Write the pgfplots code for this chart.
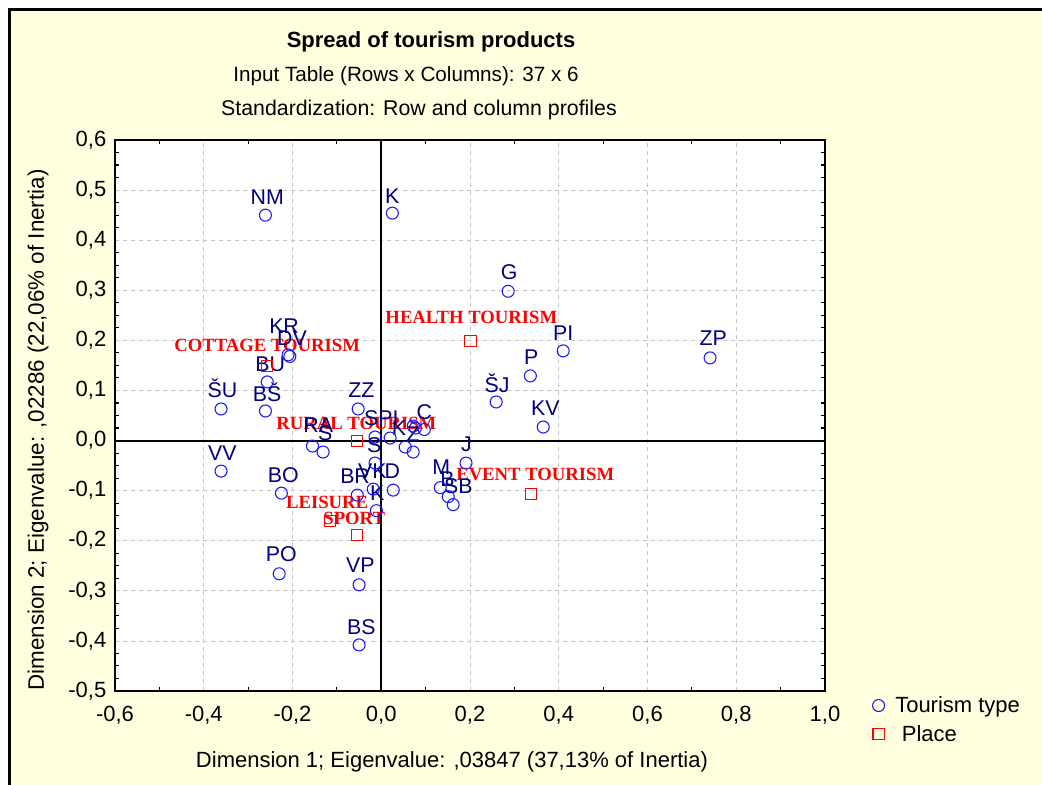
\documentclass[border=0pt]{standalone}
\usepackage{pgfplots}
\pgfplotsset{compat=1.18}
\usepackage{fontspec}
\setmainfont{Liberation Sans}
\newfontfamily\serifb{Liberation Serif}
\definecolor{bg}{RGB}{255,255,224}
\definecolor{navy}{RGB}{0,0,128}
\definecolor{mblue}{RGB}{25,25,255}
\definecolor{gridc}{RGB}{195,195,195}
\begin{document}
\begin{tikzpicture}[x=0.75pt,y=0.75pt]
\useasboundingbox (0,0) rectangle (1042,785);
\fill[white] (0,0) rectangle (1042,785);
\fill[bg] (10,0) rectangle (1042,775);
\draw[black, line width=2.25pt] (9.5,0) -- (9.5,775.5) -- (1042,775.5);
\begin{axis}[
  at={(86.25pt,70.5pt)}, anchor=south west,
  scale only axis, width=532.5pt, height=413.25pt,
  xmin=-0.6, xmax=1.0, ymin=-0.5, ymax=0.6,
  xtick={-0.6,-0.4,-0.2,0,0.2,0.4,0.6,0.8,1.0},
  ytick={-0.5,-0.4,-0.3,-0.2,-0.1,0,0.1,0.2,0.3,0.4,0.5,0.6},
  minor x tick num=1, minor y tick num=3,
  major tick length=0pt, minor tick length=3pt, tick align=inside,
  tick style={black, line width=0.8pt},
  grid=major, major grid style={gridc, dashed, line width=0.6pt},
  axis line style={black, line width=1.5pt},
  axis background/.style={fill=white},
  tick label style={font=\fontsize{16.5}{18}\selectfont},
  xticklabel style={yshift=-8pt},
  yticklabel style={xshift=-3pt},
  /pgf/number format/use comma, /pgf/number format/fixed,
  /pgf/number format/fixed zerofill, /pgf/number format/precision=1,
  /pgf/number format/assume math mode=true,
  clip=false,
  legend style={draw=none, fill=none, at={(1.061,0.0)}, anchor=north west,
    font=\fontsize{16.5}{19}\selectfont, row sep=4pt},
  legend cell align=left,
]
\addplot[forget plot, black, line width=1.5pt] coordinates {(0,-0.5) (0,0.6)};
\addplot[forget plot, black, line width=1.5pt] coordinates {(-0.6,0) (1.0,0)};

% red labels (columns)
\begin{scope}[every node/.style={red, font=\serifb\bfseries\fontsize{14}{16}\selectfont, inner sep=0pt}]
\node at (axis cs:0.203,0.245) {HEALTH TOURISM};
\node at (axis cs:-0.257,0.190) {COTTAGE TOURISM};
\node at (axis cs:-0.056,0.035) {RURAL TOURISM};
\node at (axis cs:0.347,-0.068) {EVENT TOURISM};
\node at (axis cs:-0.122,-0.123) {LEISURE};
\node at (axis cs:-0.061,-0.155) {SPORT};
\end{scope}

% navy labels (rows)
\begin{scope}[every node/.style={navy, font=\fontsize{16}{18}\selectfont, inner sep=0pt}]
\node at (axis cs:-0.257,0.486) {NM};
\node at (axis cs:0.025,0.488) {K};
\node at (axis cs:0.288,0.336) {G};
\node at (axis cs:0.410,0.215) {PI};
\node at (axis cs:0.748,0.205) {ZP};
\node at (axis cs:0.338,0.167) {P};
\node at (axis cs:0.261,0.115) {ŠJ};
\node at (axis cs:0.370,0.064) {KV};
\node at (axis cs:-0.219,0.229) {KR};
\node at (axis cs:-0.201,0.205) {DV};
\node at (axis cs:-0.250,0.153) {BU};
\node at (axis cs:-0.358,0.105) {ŠU};
\node at (axis cs:-0.257,0.097) {BŠ};
\node at (axis cs:-0.045,0.101) {ZZ};
\node at (axis cs:0.000,0.045) {SPI};
\node at (axis cs:0.097,0.057) {C};
\node at (axis cs:0.040,0.025) {K};
\node at (axis cs:0.072,0.012) {Z};
\node at (axis cs:-0.142,0.031) {RA};
\node at (axis cs:-0.126,0.015) {S};
\node at (axis cs:-0.016,-0.009) {S};
\node at (axis cs:-0.059,-0.072) {BR};
\node at (axis cs:-0.020,-0.062) {VK};
\node at (axis cs:0.025,-0.061) {D};
\node at (axis cs:-0.009,-0.105) {K};
\node at (axis cs:0.192,-0.007) {J};
\node at (axis cs:0.135,-0.054) {M};
\node at (axis cs:0.149,-0.078) {B};
\node at (axis cs:0.174,-0.092) {SB};
\node at (axis cs:-0.358,-0.025) {VV};
\node at (axis cs:-0.221,-0.069) {BO};
\node at (axis cs:-0.225,-0.227) {PO};
\node at (axis cs:-0.047,-0.249) {VP};
\node at (axis cs:-0.045,-0.372) {BS};
\end{scope}

\addplot[only marks, mark=o, mark size=4.5pt, color=mblue, mark options={line width=0.8pt, fill=none}] coordinates {
(-0.261,0.450) (0.025,0.454) (0.286,0.298) (0.410,0.179) (0.741,0.165)
(0.336,0.129) (0.259,0.077) (0.365,0.027) (-0.210,0.171) (-0.206,0.168)
(-0.257,0.117) (-0.361,0.063) (-0.261,0.059) (-0.052,0.063) (-0.014,0.007)
(0.020,0.005) (0.097,0.022) (0.077,0.025) (0.072,0.029) (0.054,-0.013)
(0.072,-0.023) (-0.155,-0.011) (-0.131,-0.023) (-0.014,-0.045) (-0.018,-0.097)
(0.027,-0.099) (-0.054,-0.109) (-0.011,-0.140) (0.191,-0.045) (0.133,-0.094)
(0.151,-0.112) (0.162,-0.128) (-0.361,-0.061) (-0.225,-0.105) (-0.230,-0.266)
(-0.050,-0.288) (-0.050,-0.408)
};
\addlegendentry{\hspace{6pt}Tourism type}
\addplot[only marks, mark=square, mark size=4.2pt, color=red, mark options={line width=0.8pt, fill=none}] coordinates {
(0.201,0.199) (-0.257,0.149) (-0.054,-0.001) (0.338,-0.107) (-0.115,-0.160) (-0.054,-0.188)
};
\addlegendentry{\hspace{11pt}Place}
\end{axis}
\node[font=\bfseries\fontsize{16.5}{19}\selectfont] at (431,743) {Spread of tourism products};
\node[font=\fontsize{15.5}{18}\selectfont] at (406,709) {Input Table (Rows x Columns): 37 x 6};
\node[font=\fontsize{16}{18}\selectfont] at (419,675) {Standardization: Row and column profiles};
\node[font=\fontsize{16.5}{19}\selectfont] at (452,23) {Dimension 1; Eigenvalue: ,03847 (37,13\% of Inertia)};
\node[font=\fontsize{16.8}{20}\selectfont, rotate=90] at (38,355) {Dimension 2; Eigenvalue: ,02286 (22,06\% of Inertia)};
\end{tikzpicture}
\end{document}
